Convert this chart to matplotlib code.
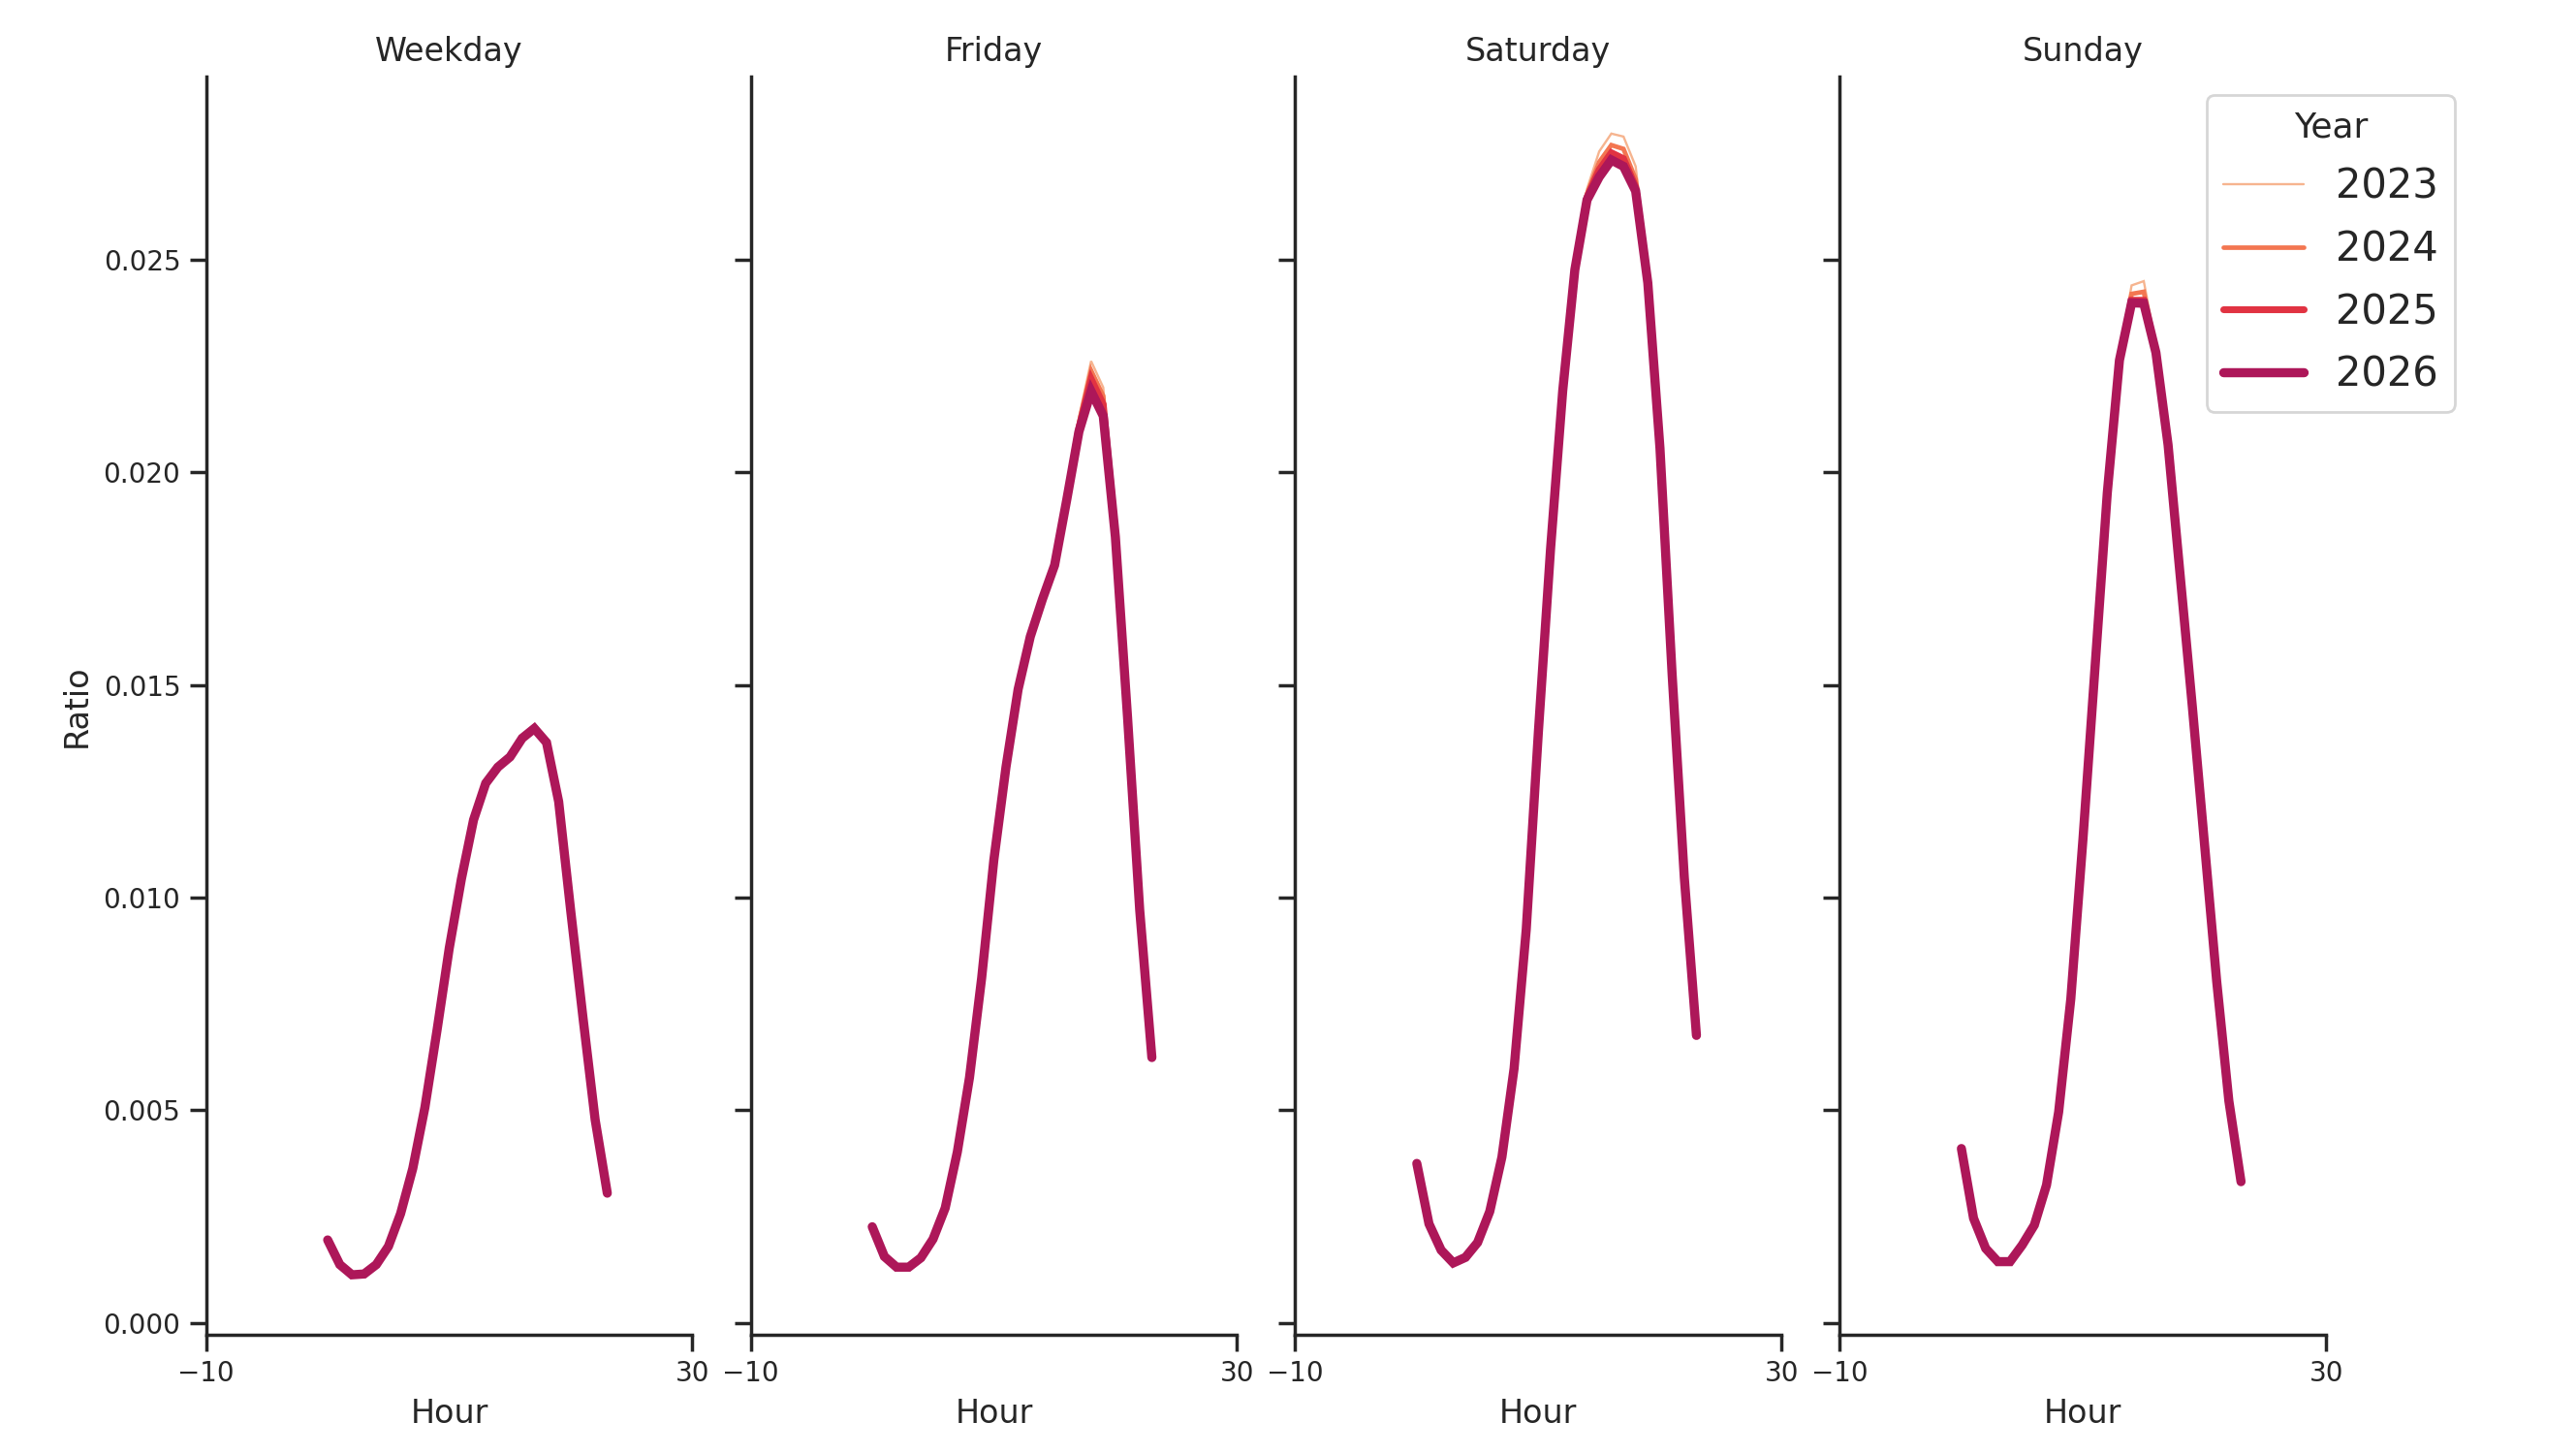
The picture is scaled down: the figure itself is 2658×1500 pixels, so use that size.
"""
Hourly ratio profiles by day type, one line per year.
"""

import matplotlib
matplotlib.use("Agg")

import matplotlib.pyplot as plt

HOURS = list(range(24))
YEARS = ["2023", "2024", "2025", "2026"]
DAY_TYPES = ["Weekday", "Friday", "Saturday", "Sunday"]

# hourly ratio values
WEEKDAY_2023 = [0.00195, 0.00137, 0.00113, 0.00115, 0.00137, 0.00180, 0.00257, 0.00363,
                0.00507, 0.00689, 0.00881, 0.01044, 0.01183, 0.01269, 0.01307, 0.01331,
                0.01380, 0.01405, 0.01370, 0.01228, 0.00968, 0.00718, 0.00478, 0.00305]
WEEKDAY_2024 = [0.00195, 0.00137, 0.00113, 0.00115, 0.00137, 0.00180, 0.00257, 0.00363,
                0.00507, 0.00689, 0.00881, 0.01044, 0.01183, 0.01269, 0.01307, 0.01331,
                0.01377, 0.01402, 0.01367, 0.01227, 0.00967, 0.00718, 0.00478, 0.00305]
WEEKDAY_2025 = [0.00195, 0.00137, 0.00113, 0.00115, 0.00137, 0.00180, 0.00257, 0.00363,
                0.00507, 0.00689, 0.00881, 0.01044, 0.01183, 0.01269, 0.01307, 0.01331,
                0.01376, 0.01400, 0.01366, 0.01226, 0.00967, 0.00718, 0.00478, 0.00305]
WEEKDAY_2026 = [0.00195, 0.00137, 0.00113, 0.00115, 0.00137, 0.00180, 0.00257, 0.00363,
                0.00507, 0.00689, 0.00881, 0.01044, 0.01183, 0.01269, 0.01307, 0.01331,
                0.01375, 0.01398, 0.01365, 0.01226, 0.00967, 0.00718, 0.00478, 0.00305]

FRIDAY_2023 = [0.00226, 0.00156, 0.00131, 0.00131, 0.00153, 0.00197, 0.00270, 0.00402,
               0.00577, 0.00811, 0.01088, 0.01307, 0.01490, 0.01614, 0.01702, 0.01782,
               0.01940, 0.02130, 0.02262, 0.02200, 0.01870, 0.01428, 0.00971, 0.00624]
FRIDAY_2024 = [0.00226, 0.00156, 0.00131, 0.00131, 0.00153, 0.00197, 0.00270, 0.00402,
               0.00577, 0.00811, 0.01088, 0.01307, 0.01490, 0.01614, 0.01702, 0.01782,
               0.01938, 0.02115, 0.02240, 0.02180, 0.01860, 0.01426, 0.00971, 0.00624]
FRIDAY_2025 = [0.00226, 0.00156, 0.00131, 0.00131, 0.00153, 0.00197, 0.00270, 0.00402,
               0.00577, 0.00811, 0.01088, 0.01307, 0.01490, 0.01614, 0.01702, 0.01782,
               0.01937, 0.02105, 0.02220, 0.02160, 0.01855, 0.01425, 0.00971, 0.00624]
FRIDAY_2026 = [0.00226, 0.00156, 0.00131, 0.00131, 0.00153, 0.00197, 0.00270, 0.00402,
               0.00577, 0.00811, 0.01088, 0.01307, 0.01490, 0.01614, 0.01702, 0.01782,
               0.01936, 0.02096, 0.02191, 0.02133, 0.01848, 0.01424, 0.00971, 0.00624]

SATURDAY_2023 = [0.00375, 0.00233, 0.00171, 0.00141, 0.00154, 0.00189, 0.00262, 0.00390,
                 0.00598, 0.00925, 0.01390, 0.01822, 0.02198, 0.02495, 0.02667, 0.02755,
                 0.02797, 0.02790, 0.02720, 0.02470, 0.02065, 0.01528, 0.01048, 0.00676]
SATURDAY_2024 = [0.00375, 0.00233, 0.00171, 0.00141, 0.00154, 0.00189, 0.00262, 0.00390,
                 0.00598, 0.00925, 0.01390, 0.01821, 0.02195, 0.02485, 0.02655, 0.02730,
                 0.02770, 0.02761, 0.02690, 0.02455, 0.02060, 0.01526, 0.01048, 0.00676]
SATURDAY_2025 = [0.00375, 0.00233, 0.00171, 0.00141, 0.00154, 0.00189, 0.00262, 0.00390,
                 0.00598, 0.00925, 0.01390, 0.01820, 0.02193, 0.02480, 0.02648, 0.02712,
                 0.02752, 0.02738, 0.02672, 0.02450, 0.02058, 0.01525, 0.01048, 0.00676]
SATURDAY_2026 = [0.00375, 0.00233, 0.00171, 0.00141, 0.00154, 0.00189, 0.00262, 0.00390,
                 0.00598, 0.00925, 0.01390, 0.01820, 0.02192, 0.02477, 0.02641, 0.02695,
                 0.02735, 0.02720, 0.02662, 0.02446, 0.02057, 0.01525, 0.01048, 0.00676]

SUNDAY_2023 = [0.00410, 0.00246, 0.00175, 0.00142, 0.00142, 0.00183, 0.00230, 0.00324,
               0.00496, 0.00762, 0.01138, 0.01545, 0.01955, 0.02280, 0.02440, 0.02450,
               0.02300, 0.02068, 0.01758, 0.01449, 0.01126, 0.00803, 0.00522, 0.00332]
SUNDAY_2024 = [0.00410, 0.00246, 0.00175, 0.00143, 0.00143, 0.00183, 0.00230, 0.00324,
               0.00496, 0.00762, 0.01138, 0.01545, 0.01953, 0.02270, 0.02420, 0.02425,
               0.02290, 0.02066, 0.01757, 0.01448, 0.01125, 0.00803, 0.00522, 0.00332]
SUNDAY_2025 = [0.00410, 0.00246, 0.00175, 0.00144, 0.00144, 0.00183, 0.00230, 0.00324,
               0.00496, 0.00762, 0.01138, 0.01545, 0.01952, 0.02266, 0.02405, 0.02405,
               0.02284, 0.02065, 0.01756, 0.01448, 0.01125, 0.00803, 0.00522, 0.00332]
SUNDAY_2026 = [0.00410, 0.00246, 0.00175, 0.00144, 0.00144, 0.00183, 0.00230, 0.00324,
               0.00496, 0.00762, 0.01138, 0.01545, 0.01952, 0.02264, 0.02399, 0.02398,
               0.02282, 0.02065, 0.01756, 0.01448, 0.01125, 0.00803, 0.00522, 0.00332]

SERIES = {
    "Weekday": [WEEKDAY_2023, WEEKDAY_2024, WEEKDAY_2025, WEEKDAY_2026],
    "Friday": [FRIDAY_2023, FRIDAY_2024, FRIDAY_2025, FRIDAY_2026],
    "Saturday": [SATURDAY_2023, SATURDAY_2024, SATURDAY_2025, SATURDAY_2026],
    "Sunday": [SUNDAY_2023, SUNDAY_2024, SUNDAY_2025, SUNDAY_2026],
}

YEAR_COLORS = ["#f6b48f", "#f37651", "#e13342", "#ad1759"]  # rocket, light -> dark
YEAR_WIDTHS = [0.85, 1.7, 2.55, 3.4]

TEXT_COLOR = "#262626"

plt.rcParams["font.family"] = ["DejaVu Sans"]
plt.rcParams["text.color"] = TEXT_COLOR
plt.rcParams["axes.labelcolor"] = TEXT_COLOR
plt.rcParams["axes.edgecolor"] = TEXT_COLOR
plt.rcParams["axes.linewidth"] = 1.25
plt.rcParams["xtick.color"] = TEXT_COLOR
plt.rcParams["ytick.color"] = TEXT_COLOR
plt.rcParams["xtick.major.size"] = 6
plt.rcParams["ytick.major.size"] = 6
plt.rcParams["xtick.major.width"] = 1.25
plt.rcParams["ytick.major.width"] = 1.25
plt.rcParams["xtick.labelsize"] = 10
plt.rcParams["ytick.labelsize"] = 10
plt.rcParams["axes.labelsize"] = 12
plt.rcParams["axes.titlesize"] = 12


def main():
    fig, axes = plt.subplots(1, 4, figsize=(13.29, 7.5), sharey=True)
    fig.subplots_adjust(left=0.080, right=0.903, bottom=0.0823, top=0.947, wspace=0.1198)

    for ax, day in zip(axes, DAY_TYPES):
        for year, values, color, lw in zip(YEARS, SERIES[day], YEAR_COLORS, YEAR_WIDTHS):
            ax.plot(HOURS, values, color=color, linewidth=lw, label=year,
                    solid_capstyle="round", solid_joinstyle="miter")
        ax.set_title(day)
        ax.set_xlabel("Hour")
        ax.set_xlim(-10, 30)
        ax.set_xticks([-10, 30])
        ax.spines["top"].set_visible(False)
        ax.spines["right"].set_visible(False)
        ax.tick_params(axis="y", labelleft=(ax is axes[0]))

    axes[0].set_ylim(-0.00027, 0.0293)
    axes[0].set_yticks([0.000, 0.005, 0.010, 0.015, 0.020, 0.025])
    axes[0].set_yticklabels(["0.000", "0.005", "0.010", "0.015", "0.020", "0.025"])
    axes[0].set_ylabel("Ratio")

    leg = axes[3].legend(title="Year", fontsize=15, title_fontsize=13,
                         loc="upper right", bbox_to_anchor=(0.9529, 0.9349),
                         bbox_transform=fig.transFigure, borderaxespad=0,
                         labelspacing=0.55, frameon=True, fancybox=True)
    leg.get_frame().set_edgecolor("#cccccc")

    fig.savefig("out.png", dpi=200)
    plt.close(fig)


if __name__ == "__main__":
    main()
